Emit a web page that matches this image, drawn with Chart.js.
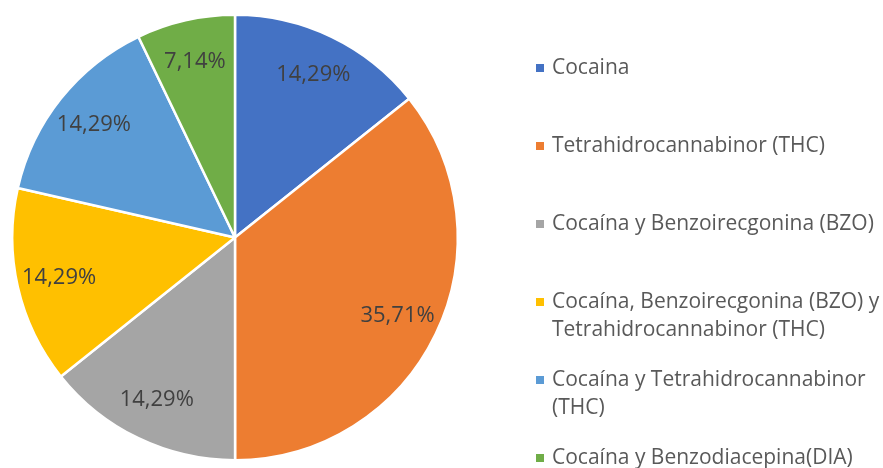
<!DOCTYPE html>
<html>
<head>
<meta charset="utf-8">
<script src="https://cdn.jsdelivr.net/npm/chart.js@4"></script>
<style>
  html, body { margin: 0; padding: 0; background: #ffffff; }
  #wrap { width: 883px; height: 468px; position: relative; }
</style>
</head>
<body>
<div id="wrap"><canvas id="chart"></canvas></div>
<script>
var labels = [
  'Cocaina',
  'Tetrahidrocannabinor (THC)',
  'Cocaína y Benzoirecgonina (BZO)',
  'Cocaína, Benzoirecgonina (BZO) y Tetrahidrocannabinor (THC)',
  'Cocaína y Tetrahidrocannabinor (THC)',
  'Cocaína y Benzodiacepina(DIA)'
];
var values = [14.29, 35.71, 14.29, 14.29, 14.29, 7.14];
var colors = ['#4472C4', '#ED7D31', '#A5A5A5', '#FFC000', '#5B9BD5', '#70AD47'];

var FONT = '"Open Sans", sans-serif';

function pctToStr(v) {
  return v.toFixed(2).replace('.', ',') + '%';
}

function wrapText(ctx, text, maxWidth) {
  var words = text.split(' ');
  var lines = [];
  var cur = '';
  words.forEach(function (w) {
    var test = cur ? cur + ' ' + w : w;
    if (cur && ctx.measureText(test).width > maxWidth) {
      lines.push(cur);
      cur = w;
    } else {
      cur = test;
    }
  });
  if (cur) lines.push(cur);
  return lines;
}

var sliceLabels = {
  id: 'sliceLabels',
  afterDatasetsDraw: function (c) {
    var ctx = c.ctx;
    var meta = c.getDatasetMeta(0);
    ctx.save();
    ctx.font = '22px ' + FONT;
    ctx.fillStyle = '#404040';
    ctx.textAlign = 'center';
    ctx.textBaseline = 'middle';
    meta.data.forEach(function (arc, i) {
      var p = arc.getProps(['x', 'y', 'startAngle', 'endAngle', 'outerRadius'], true);
      var mid = (p.startAngle + p.endAngle) / 2;
      var r = p.outerRadius * 0.81;
      ctx.fillText(pctToStr(values[i]), p.x + Math.cos(mid) * r, p.y + Math.sin(mid) * r);
    });
    ctx.restore();
  }
};

var sideLegend = {
  id: 'sideLegend',
  afterDraw: function (c) {
    var ctx = c.ctx;
    ctx.save();
    ctx.font = '21px ' + FONT;
    ctx.textBaseline = 'middle';
    ctx.textAlign = 'left';
    var x0 = 536, tx = 552, y0 = 68, step = 78, lh = 28;
    labels.forEach(function (lab, i) {
      var y = y0 + i * step;
      ctx.fillStyle = colors[i];
      ctx.fillRect(x0, y - 4, 8, 8);
      ctx.fillStyle = '#595959';
      wrapText(ctx, lab, 883 - tx).forEach(function (line, k) {
        ctx.fillText(line, tx, y + k * lh);
      });
    });
    ctx.restore();
  }
};

new Chart(document.getElementById('chart'), {
  type: 'pie',
  data: {
    labels: labels,
    datasets: [{
      data: values,
      backgroundColor: colors,
      borderColor: '#ffffff',
      borderWidth: 2.5
    }]
  },
  options: {
    responsive: true,
    maintainAspectRatio: false,
    animation: false,
    layout: {
      padding: { left: 11, top: 13, right: 424, bottom: 6 }
    },
    plugins: {
      legend: { display: false },
      tooltip: { enabled: false }
    }
  },
  plugins: [sliceLabels, sideLegend]
});
</script>
</body>
</html>
